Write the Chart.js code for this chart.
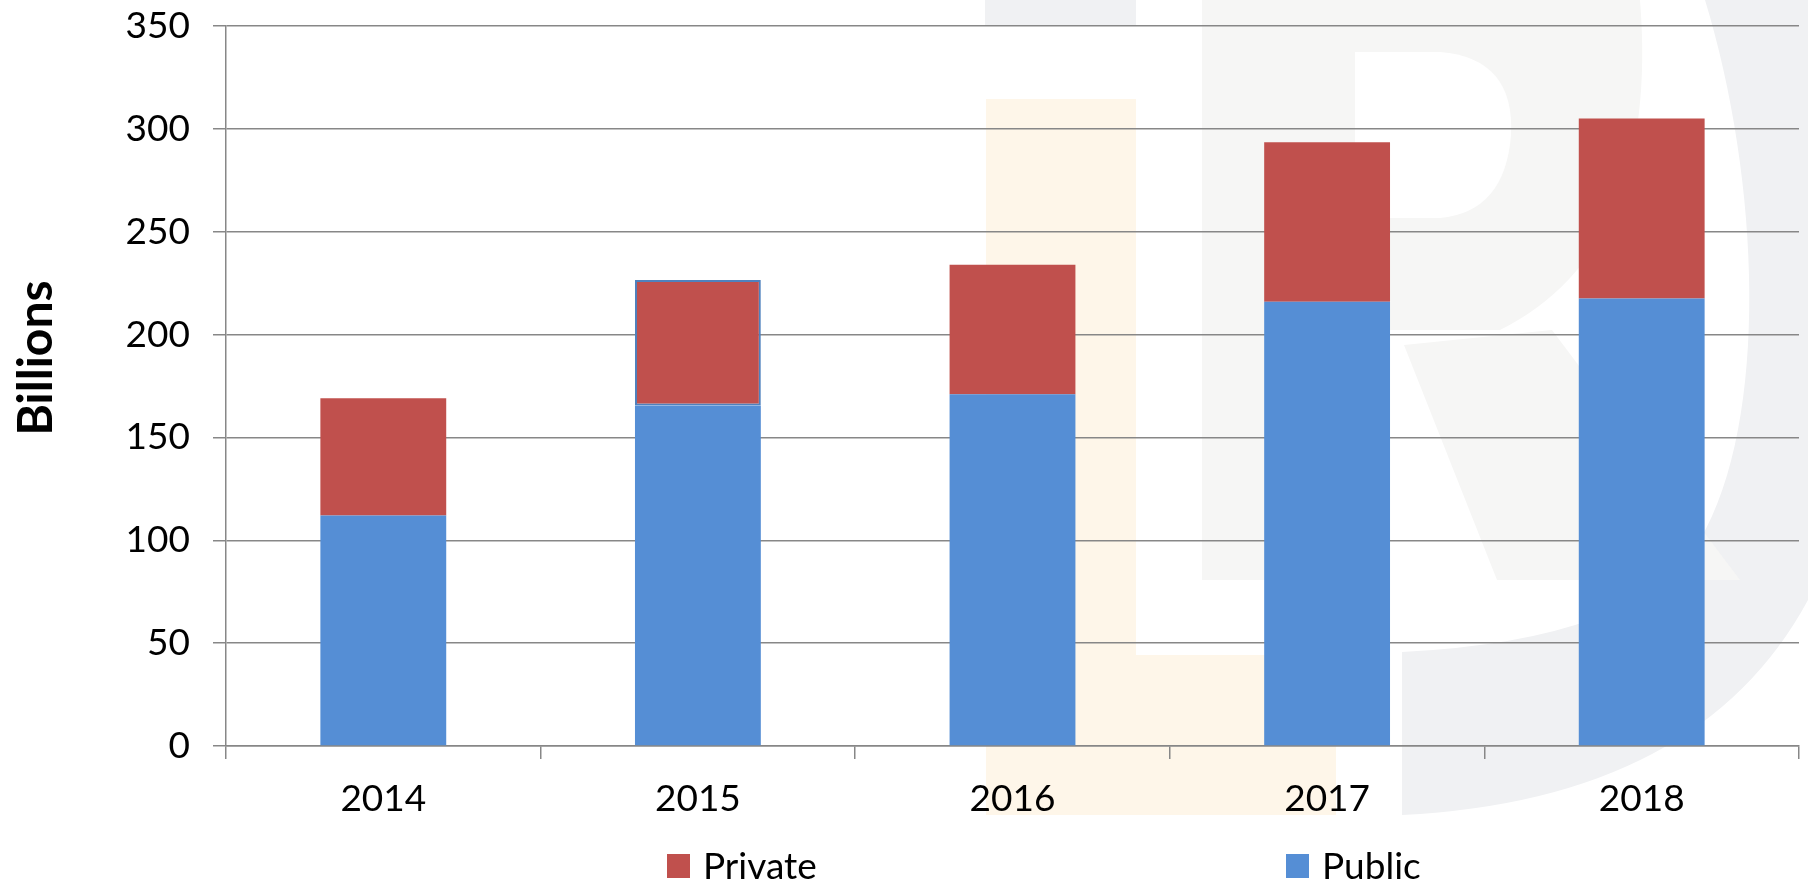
<!DOCTYPE html>
<html>
<head>
<meta charset="utf-8">
<title>Public and private, billions</title>
<script src="https://cdn.jsdelivr.net/npm/chart.js@4.4.1/dist/chart.umd.min.js"></script>
<style>
  html, body { margin: 0; padding: 0; background: #ffffff; }
  #wrap { width: 1808px; height: 884px; }
</style>
</head>
<body>
<div id="wrap"><canvas id="chart-main" width="1808" height="884"></canvas></div>
<script>
// Data
const years = ['2014', '2015', '2016', '2017', '2018'];
const publicValues = [112, 165.5, 171, 216, 217.5];
const privateValues = [57, 61, 63, 77.5, 87.5];
const yTicks = [0, 50, 100, 150, 200, 250, 300, 350];

const red = '#C0504D';
const blue = '#558ED5';
const gridColor = '#878787';
const fontFamily = 'Lato, "Open Sans", sans-serif';

// faint "LR" logo behind the plot
const watermark = {
  id: 'watermark',
  beforeDraw(chart) {
    const ctx = chart.ctx;
    ctx.save();
    // gray block at the very top
    ctx.fillStyle = '#F0F1F3';
    ctx.fillRect(985, 0, 151, 25);
    // orange "L"
    ctx.fillStyle = '#FEF6E9';
    ctx.beginPath();
    ctx.moveTo(986, 99);
    ctx.lineTo(1136, 99);
    ctx.lineTo(1136, 655);
    ctx.lineTo(1336, 655);
    ctx.lineTo(1336, 815);
    ctx.lineTo(986, 815);
    ctx.closePath();
    ctx.fill();
    // ring on the right
    ctx.fillStyle = '#F0F1F3';
    ctx.beginPath();
    ctx.moveTo(1705, 0);
    ctx.bezierCurveTo(1760, 180, 1770, 420, 1700, 540);
    ctx.quadraticCurveTo(1640, 640, 1402, 652);
    ctx.lineTo(1402, 815);
    ctx.quadraticCurveTo(1700, 800, 1808, 600);
    ctx.lineTo(1808, 0);
    ctx.closePath();
    ctx.fill();
    // gray "R"
    ctx.fillStyle = '#F6F6F5';
    ctx.fillRect(1202, 0, 153, 580);
    ctx.beginPath();
    ctx.moveTo(1355, 0);
    ctx.lineTo(1640, 0);
    ctx.quadraticCurveTo(1660, 250, 1500, 330);
    ctx.lineTo(1355, 330);
    ctx.closePath();
    ctx.fill();
    ctx.beginPath();
    ctx.moveTo(1404, 345);
    ctx.lineTo(1552, 330);
    ctx.lineTo(1740, 580);
    ctx.lineTo(1497, 580);
    ctx.closePath();
    ctx.fill();
    ctx.fillStyle = '#FFFFFF';
    ctx.beginPath();
    ctx.moveTo(1355, 52);
    ctx.lineTo(1440, 52);
    ctx.quadraticCurveTo(1515, 58, 1511, 135);
    ctx.quadraticCurveTo(1505, 212, 1440, 218);
    ctx.lineTo(1355, 218);
    ctx.closePath();
    ctx.fill();
    ctx.restore();
  }
};

// legend and axis title drawn by hand to sit where the original has them
const extras = {
  id: 'extras',
  afterDraw(chart) {
    const ctx = chart.ctx;
    const items = [
      { text: 'Private', color: red, x: 667 },
      { text: 'Public', color: blue, x: 1286 }
    ];
    ctx.save();
    ctx.font = '37px ' + fontFamily;
    ctx.textBaseline = 'middle';
    items.forEach(function (it) {
      ctx.fillStyle = it.color;
      ctx.fillRect(it.x, 854, 23, 24);
      ctx.fillStyle = '#000000';
      ctx.fillText(it.text, it.x + 36, 867);
    });
    // y axis title
    ctx.translate(37, 358);
    ctx.rotate(-Math.PI / 2);
    ctx.font = 'bold 48px ' + fontFamily;
    ctx.textAlign = 'center';
    ctx.fillText('Billions', 0, 0);
    ctx.restore();
  }
};

const ctx = document.getElementById('chart-main').getContext('2d');
window.myChartMain = new Chart(ctx, {
  type: 'bar',
  data: {
    labels: years,
    datasets: [
      {
        label: 'Public',
        data: publicValues,
        backgroundColor: blue,
        borderWidth: 0,
        categoryPercentage: 1,
        barPercentage: 0.4
      },
      {
        label: 'Private',
        data: privateValues,
        backgroundColor: red,
        borderColor: '#4F81BD',
        borderWidth: [0, 2, 0, 0, 0],
        borderSkipped: false,
        categoryPercentage: 1,
        barPercentage: 0.4
      }
    ]
  },
  options: {
    responsive: false,
    maintainAspectRatio: false,
    devicePixelRatio: 1,
    animation: false,
    layout: { padding: { top: 4, right: 9, left: 0, bottom: 0 } },
    plugins: {
      legend: { display: false },
      tooltip: { enabled: false }
    },
    scales: {
      x: {
        stacked: true,
        grid: {
          display: true,
          drawOnChartArea: false,
          drawTicks: true,
          tickLength: 13,
          color: gridColor,
          lineWidth: 1.5
        },
        border: { color: gridColor, width: 1.5 },
        ticks: {
          color: '#000000',
          font: { family: fontFamily, size: 37 },
          padding: 18,
          maxRotation: 0
        },
        afterFit(scale) { scale.height = 138; }
      },
      y: {
        stacked: true,
        min: 0,
        max: 350,
        afterBuildTicks(scale) {
          scale.ticks = yTicks.map(function (v) { return { value: v }; });
        },
        grid: {
          color: gridColor,
          lineWidth: 1.5,
          drawTicks: true,
          tickLength: 13
        },
        border: { color: gridColor, width: 1.5 },
        ticks: {
          color: '#000000',
          font: { family: fontFamily, size: 37 },
          padding: 23
        },
        afterFit(scale) {
          scale.width = 226;
          // tick padding would otherwise push the top line down
          scale.paddingTop = 26;
        }
      }
    }
  },
  plugins: [watermark, extras]
});
</script>
</body>
</html>
